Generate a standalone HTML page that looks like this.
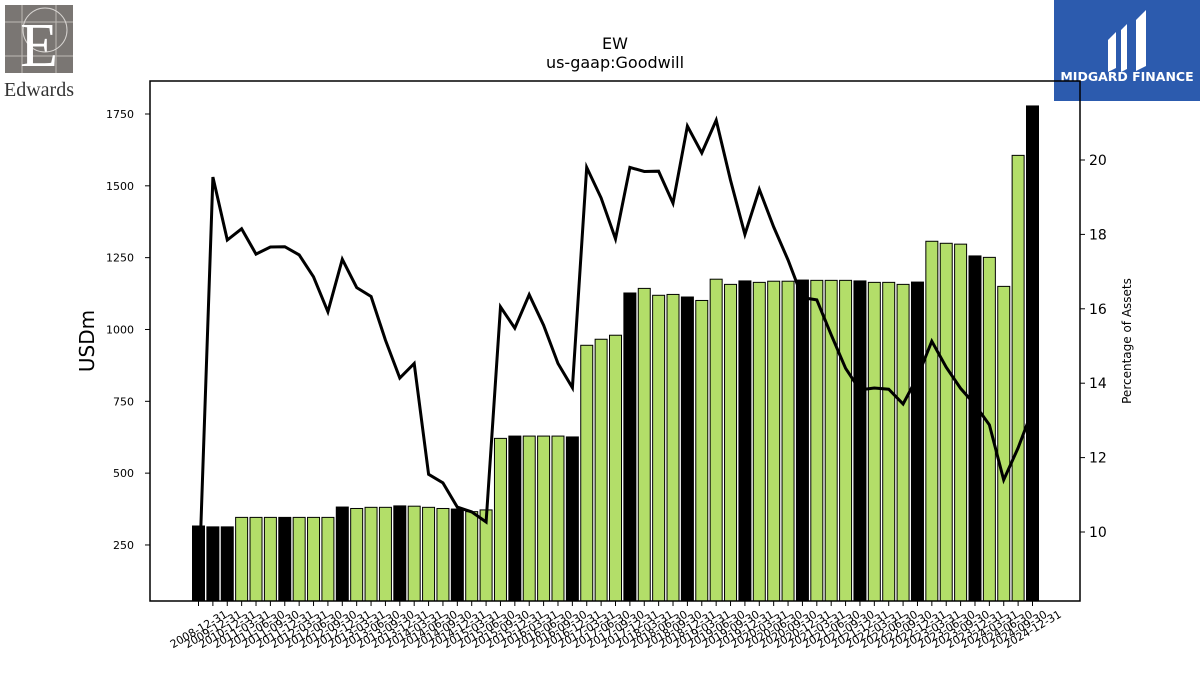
<!DOCTYPE html>
<html><head><meta charset="utf-8"><style>
body{margin:0;background:#fff;width:1200px;height:675px;overflow:hidden;font-family:"Liberation Sans","DejaVu Sans",sans-serif}
</style></head><body>
<svg id="chart" width="1200" height="675" xmlns="http://www.w3.org/2000/svg" font-family="DejaVu Sans, Liberation Sans, sans-serif">
<g>
<rect x="5" y="5" width="68" height="68" fill="#7a7673"/>
<path d="M5 22H73M5 56H73M22 5V73M56 5V73" stroke="#bdb9b5" stroke-width="1" fill="none"/>
<circle cx="45" cy="30" r="22" stroke="#d8d5d2" fill="none"/>
<text x="39" y="66" font-family="Liberation Serif, serif" font-size="62" fill="#fff" text-anchor="middle">E</text>
<text x="39" y="96" font-family="Liberation Serif, serif" font-size="20" fill="#333" text-anchor="middle">Edwards</text>
</g>
<g>
<rect x="1054" y="0" width="146" height="101" fill="#2c5bae"/>
<path d="M1108 40 l8 -8 v36 l-8 4z M1121 30 l6 -6 v45 l-6 3z M1136 20 l10 -10 v56 l-10 5z" fill="#fff"/>
<text x="1127" y="81" font-size="12.5" font-weight="bold" fill="#fff" text-anchor="middle">MIDGARD FINANCE</text>
</g>
<text x="615" y="49" font-size="16" text-anchor="middle">EW</text>
<text x="615" y="68" font-size="16" text-anchor="middle">us-gaap:Goodwill</text>
<g id="bars"></g><g id="xt"></g><g id="yl"></g><g id="yr"></g>
<rect x="150" y="81" width="930" height="520" fill="none" stroke="#000" stroke-width="1.5"/>
<text transform="translate(94,341) rotate(-90)" font-size="20" text-anchor="middle">USDm</text>
<text transform="translate(1131,341) rotate(-90)" font-size="12" text-anchor="middle">Percentage of Assets</text>
</svg>
<script>
const categories=["2008-12-31","2009-12-31","2010-12-31"];
for(let y=2011;y<=2024;y++){["03-31","06-30","09-30","12-31"].forEach(q=>categories.push(y+"-"+q));}
const goodwill=[316,313,313,346,346,346,346,346,346,346,382,377,381,381,386,385,381,377,375,366,372,621,629,629,629,629,626,945,966,980,1127,1143,1119,1122,1113,1101,1175,1157,1169,1164,1168,1168,1172,1171,1171,1171,1169,1164,1164,1157,1165,1307,1300,1297,1256,1251,1150,1606,1778];
const pctAssets=[8.3,19.54,17.85,18.15,17.47,17.66,17.67,17.45,16.86,15.92,17.33,16.57,16.33,15.16,14.14,14.53,11.55,11.32,10.67,10.54,10.27,16.05,15.48,16.38,15.56,14.53,13.88,19.8,18.98,17.88,19.8,19.69,19.7,18.84,20.91,20.19,21.07,19.46,18.0,19.21,18.2,17.31,16.3,16.24,15.3,14.4,13.82,13.87,13.84,13.44,14.17,15.13,14.43,13.86,13.42,12.88,11.4,12.26,13.28];
const leftTicks=[250,500,750,1000,1250,1500,1750];
const rightTicks=[10,12,14,16,18,20];
const NS="http://www.w3.org/2000/svg";
function xS(i){return 198.5+i*(834/(categories.length-1));}
function yL(v){return 616.8-v*0.28732;}
function yR(v){return 532-(v-10)*37.2;}
function mk(t,a,p){const e=document.createElementNS(NS,t);for(const k in a)e.setAttribute(k,a[k]);(p||document.getElementById('chart')).appendChild(e);return e;}
const bars=document.getElementById('bars'),xt=document.getElementById('xt'),yl=document.getElementById('yl'),yr=document.getElementById('yr');
const bw=12;
categories.forEach((c,i)=>{
 const top=Math.max(yL(goodwill[i]),81);
 const r=mk('rect',{x:xS(i)-bw/2,y:top,width:bw,height:601-top,fill:c.endsWith('12-31')?'#000':'#b3de69',stroke:'#000','stroke-width':1},bars);
 
 
 mk('line',{x1:xS(i),x2:xS(i),y1:601,y2:606,stroke:'#000'},xt);
 const t=mk('text',{transform:`translate(${xS(i)},629) rotate(-30)`,'font-size':11,'text-anchor':'middle',dy:'4'},xt);
 t.textContent=c;
 
 
});
leftTicks.forEach(v=>{
 mk('line',{x1:145,x2:150,y1:yL(v),y2:yL(v),stroke:'#000'},yl);
 const t=mk('text',{x:134,y:yL(v)+4,'font-size':11,'text-anchor':'end'},yl);
 t.textContent=v;
 
 
});
rightTicks.forEach(v=>{
 mk('line',{x1:1080,x2:1085,y1:yR(v),y2:yR(v),stroke:'#000'},yr);
 const t=mk('text',{x:1089,y:yR(v)+5,'font-size':14},yr);
 t.textContent=v;
 
 
});
const pts=pctAssets.map((v,i)=>xS(i).toFixed(1)+','+Math.min(yR(v),601).toFixed(1)).join(' ');
const pl=mk('polyline',{points:pts,fill:'none',stroke:'#000','stroke-width':3,'stroke-linejoin':'miter'});


</script>
</body></html>
